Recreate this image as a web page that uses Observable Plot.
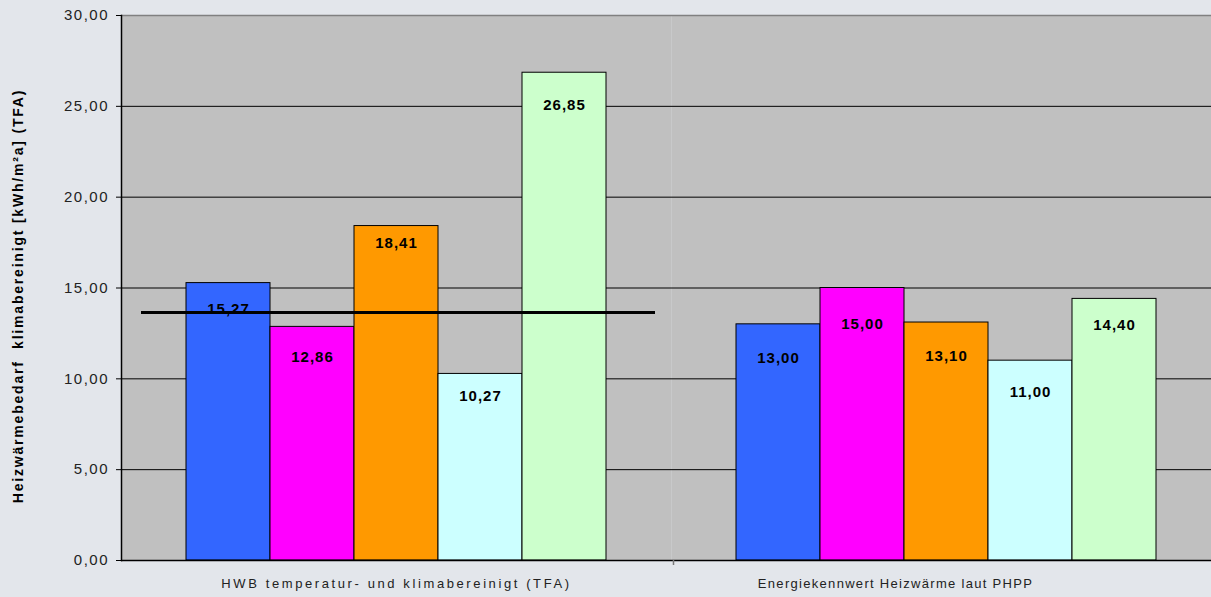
<!DOCTYPE html>
<html>
<head>
<meta charset="utf-8">
<script src="https://cdn.jsdelivr.net/npm/d3@7"></script>
<script src="https://cdn.jsdelivr.net/npm/@observablehq/plot@0.6"></script>
<style>
  html, body { margin: 0; padding: 0; background: #e3e6eb; overflow: hidden; }
  #chart { width: 1211px; height: 597px; overflow: hidden; }
  .group-a text { letter-spacing: 2.6px; }
  .group-b text { letter-spacing: 1.3px; }
  .ytick text { letter-spacing: 1.5px; }
  .bar-label text { letter-spacing: 1px; }
  .y-title text { letter-spacing: 1.8px; }
</style>
</head>
<body>
<div id="chart"></div>
<script>
// Category groups along the x axis
const groups = [
  "HWB temperatur- und klimabereinigt (TFA)",
  "Energiekennwert Heizwärme laut PHPP"
];
// Buildings compared within each group
const series = ["Haus 1", "Haus 2", "Haus 3", "Haus 4", "Haus 5"];
const hwbValues = [15.27, 12.86, 18.41, 10.27, 26.85];
const phppValues = [13.00, 15.00, 13.10, 11.00, 14.40];
const seriesColors = ["#3366ff", "#ff00ff", "#ff9900", "#ccffff", "#ccffcc"];
const referenceValue = 13.65;
const yTicks = [0, 5, 10, 15, 20, 25, 30];
const yTitle = "Heizwärmebedarf  klimabereinigt [kWh/m²a] (TFA)";

const rows = [
  ...series.map((s, i) => ({group: groups[0], series: s, value: hwbValues[i]})),
  ...series.map((s, i) => ({group: groups[1], series: s, value: phppValues[i]}))
];

// how far each value label sits below its bar top (px)
const labelDrop = [26, 30, 17, 22, 32, 34, 36, 34, 32, 26];

const fmt = v => v.toFixed(2).replace(".", ",");

// drop each value label below its bar top
function dropLabels(index, scales, values, dimensions, context, next) {
  const y = Float64Array.from(values.y, (v, i) => v + labelDrop[i]);
  return next(index, scales, {...values, y}, dimensions, context);
}

const chart = Plot.plot({
  width: 1211,
  height: 597,
  marginTop: 15,
  marginBottom: 37,
  marginLeft: 121,
  marginRight: -10,
  style: {fontFamily: "'Liberation Sans', Arial, sans-serif", background: "transparent", color: "#111"},
  fx: {domain: groups, padding: 0, label: null, axis: null},
  x: {domain: series, paddingInner: 0, paddingOuter: 0.758, axis: null},
  y: {domain: [0, 30], label: null},
  color: {domain: series, range: seriesColors},
  marks: [
    Plot.frame({fill: "#c0c0c0", stroke: null}),
    Plot.ruleY(yTicks.filter(t => t > 0 && t < 30), {stroke: "#000", strokeWidth: 1}),
    Plot.ruleY([30], {stroke: "#808080", strokeWidth: 1.5}),
    Plot.barY(rows, {fx: "group", x: "series", y: "value", fill: "series", stroke: "#000", strokeWidth: 1}),
    Plot.text(rows, {
      fx: "group", x: "series", y: "value",
      text: d => fmt(d.value),
      fontSize: 15, fontWeight: "bold", fill: "#000",
      textAnchor: "middle", lineAnchor: "middle", className: "bar-label",
      render: dropLabels
    }),
    Plot.ruleY([referenceValue], {fx: () => groups[0], stroke: "#000", strokeWidth: 3, insetLeft: 20, insetRight: 16}),
    Plot.ruleY([0], {stroke: "#000", strokeWidth: 1.5}),
    Plot.frame({anchor: "left", facetAnchor: "left", stroke: "#000", strokeWidth: 1.5}),
    Plot.ruleX([series[0]], {fx: () => groups[1], x: d => d, y1: 0, y2: 0, insetBottom: -5, dx: -105, stroke: "#777", strokeWidth: 1.5}),
    Plot.axisY({ticks: yTicks, tickFormat: fmt, tickSize: 5, tickPadding: 7.5, fontSize: 15, label: null, stroke: "#000", fill: "#222", className: "ytick"}),
    Plot.text([groups[0]], {fx: d => d, text: d => d, frameAnchor: "bottom", lineAnchor: "middle", dy: 23, fontSize: 13, fill: "#222", className: "group-a"}),
    Plot.text([groups[1]], {fx: d => d, text: d => d, frameAnchor: "bottom", lineAnchor: "middle", dy: 23, dx: -51, fontSize: 13, fill: "#222", className: "group-b"}),
    Plot.text([yTitle], {
      frameAnchor: "left", facetAnchor: "left", rotate: -90, dx: -103, dy: 8,
      textAnchor: "middle", lineAnchor: "middle",
      fontSize: 14, fontWeight: "bold", fill: "#000", className: "y-title"
    })
  ]
});

document.getElementById("chart").appendChild(chart);
</script>
</body>
</html>
